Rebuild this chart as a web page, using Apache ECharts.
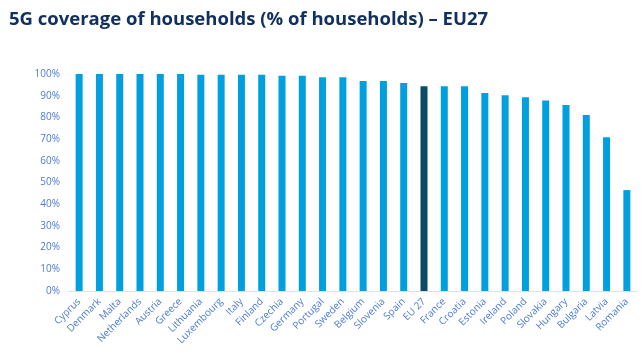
<!DOCTYPE html>
<html>
<head>
<meta charset="utf-8">
<script src="https://cdn.jsdelivr.net/npm/echarts@6/dist/echarts.min.js"></script>
<style>
  html, body { margin: 0; padding: 0; background: #fff; }
  #chart { width: 643px; height: 354px; }
</style>
</head>
<body>
<div id="chart"></div>
<script>
const countries = ['Cyprus', 'Denmark', 'Malta', 'Netherlands', 'Austria', 'Greece', 'Lithuania', 'Luxembourg', 'Italy', 'Finland', 'Czechia', 'Germany', 'Portugal', 'Sweden', 'Belgium', 'Slovenia', 'Spain', 'EU 27', 'France', 'Croatia', 'Estonia', 'Ireland', 'Poland', 'Slovakia', 'Hungary', 'Bulgaria', 'Latvia', 'Romania']
const coverage = [100, 100, 100, 100, 100, 100, 99.7, 99.7, 99.7, 99.7, 99.2, 99.2, 98.5, 98.5, 96.8, 96.8, 95.9, 94.3, 94.3, 94.3, 91.3, 90.2, 89.3, 87.8, 85.7, 81.1, 70.9, 46.5]
const highlight = 'EU 27'

const chart = echarts.init(document.getElementById('chart'))
chart.setOption({
  animation: false,
  title: {
    text: '5G coverage of households (% of households) – EU27',
    left: 4,
    top: 5,
    textStyle: {
      fontFamily: 'Open Sans',
      fontSize: 18.5,
      fontWeight: 'bold',
      color: '#10305f'
    }
  },
  grid: {
    top: 74,
    bottom: 63,
    left: 69,
    right: 6
  },
  xAxis: {
    type: 'category',
    data: countries,
    axisLine: { lineStyle: { color: '#d9e1f2' } },
    axisTick: { show: false },
    axisLabel: {
      interval: 0,
      rotate: 45,
      margin: 9,
      fontFamily: 'Open Sans',
      fontSize: 10,
      color: '#4a7bd6'
    }
  },
  yAxis: {
    type: 'value',
    min: 0,
    max: 100,
    interval: 10,
    splitLine: { show: false },
    axisLine: { show: false },
    axisTick: { show: false },
    axisLabel: {
      formatter: '{value}%',
      margin: 9,
      fontFamily: 'Open Sans',
      fontSize: 10,
      color: '#4a7bd6'
    }
  },
  series: [{
    type: 'bar',
    barWidth: 7,
    data: coverage.map((v, i) => ({
      value: v,
      itemStyle: { color: countries[i] === highlight ? '#0b4a68' : '#00a0df' }
    }))
  }]
})
</script>
</body>
</html>
